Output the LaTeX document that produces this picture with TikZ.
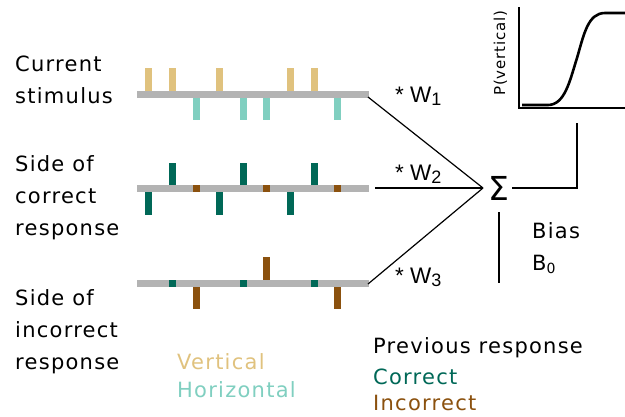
\documentclass[tikz,border=0pt]{standalone}
\usepackage{fontspec}
\setmainfont[LetterSpace=6]{DejaVu Sans}
\newfontfamily\wfont{Liberation Sans}
\usepackage{xcolor}
\usepackage{tikz}
\usetikzlibrary{positioning}

\definecolor{vertcol}{RGB}{224,194,126}
\definecolor{horcol}{RGB}{128,207,192}
\definecolor{corcol}{RGB}{0,104,87}
\definecolor{inccol}{RGB}{139,81,14}
\definecolor{bargray}{RGB}{179,179,179}

\tikzset{
	rowlabel/.style={anchor=base west, inner sep=0pt, align=left, font=\fontsize{21}{32}\selectfont},
	legendtxt/.style={anchor=base west, inner sep=0pt, font=\fontsize{21}{24}\selectfont},
	weight/.style={anchor=base west, inner sep=0pt, font=\wfont\fontsize{22.5}{24}\selectfont},
	wire/.style={line width=1.2pt, black},
}

\begin{document}
\begin{tikzpicture}[x=1pt, y=-1pt]
		\useasboundingbox (0,0) rectangle (625,416);
		% Row labels (base = last line):
		\node[rowlabel] (lab1) at (15,103){Current\\stimulus};
		\node[rowlabel] (lab2) at (15,235){Side of\\correct\\response};
		\node[rowlabel] (lab3) at (15,369){Side of\\incorrect\\response};
		% Time lines:
		\fill[bargray] (137,91) rectangle (369,98);
		\fill[bargray] (137,185) rectangle (369,192);
		\fill[bargray] (137,280) rectangle (369,287);
		% stimulus row
		\foreach \x in {145,169,216,287,311} \fill[vertcol] (\x,68) rectangle ++(7,23);
		\foreach \x in {193,240,263,334} \fill[horcol] (\x,98) rectangle ++(7,22);
		% correct side row
		\foreach \x in {169,240,311} \fill[corcol] (\x,163) rectangle ++(7,22);
		\foreach \x in {145,216,287} \fill[corcol] (\x,192) rectangle ++(7,23);
		\foreach \x in {193,263,334} \fill[inccol] (\x,185) rectangle ++(7,7);
		% incorrect side row
		\foreach \x in {169,240,311} \fill[corcol] (\x,280) rectangle ++(7,7);
		\fill[inccol] (263,257) rectangle ++(7,23);
		\foreach \x in {193,334} \fill[inccol] (\x,287) rectangle ++(7,22);
		% Weights and sum:
		\coordinate (end1) at (368,97);
		\coordinate (end2) at (375,188);
		\coordinate (end3) at (368,284);
		\coordinate (apex) at (483,188);
		\node[anchor=base west, inner sep=0pt, font=\fontsize{33}{33}\selectfont] (sig) at (488,200){Σ};
		\draw[wire] (end1) -- (apex);
		\draw[wire] (end2) -- (apex);
		\draw[wire] (end3) -- (apex);
		\node[weight] (w1) at (395,102){* W\raisebox{-3pt}{\fontsize{18}{18}\selectfont 1}};
		\node[weight] (w2) at (395,180){* W\raisebox{-3pt}{\fontsize{18}{18}\selectfont 2}};
		\node[weight] (w3) at (395,283){* W\raisebox{-3pt}{\fontsize{18}{18}\selectfont 3}};
		% Bias:
		\coordinate (btop) at (499,212);
		\coordinate (bbot) at (499,283);
		\draw[wire] (btop) -- (bbot);
		\node[legendtxt] (bias) at (532,238){Bias};
		\node[legendtxt] (b0) at (532,270){B\raisebox{-3pt}{\fontsize{14}{14}\selectfont 0}};
		% Output to the psychometric curve:
		\coordinate (pin) at (577,123);
		\draw[wire] ([xshift=3pt]sig.east) -| (pin);
		\draw[line width=1.2pt] (519,7) -- (519,108) -- (625,108);
		\draw[line width=2.6pt] (522,105) -- (548,105) .. controls (565,105) and (570,80) .. (577,58)
			.. controls (584,34) and (588,13) .. (605,13) -- (625,13);
		\node[rotate=90, anchor=base, inner sep=0pt, font=\fontsize{15}{15}\selectfont] (py) at (505,53){P(vertical)};
		% Legends:
		\node[legendtxt, text=vertcol] (lv) at (177,369){Vertical};
		\node[legendtxt, text=horcol] (lh) at (177,397){Horizontal};
		\node[legendtxt] (lp) at (373,353){Previous response};
		\node[legendtxt, text=corcol] (lc) at (373,384){Correct};
		\node[legendtxt, text=inccol] (li) at (373,410){Incorrect};
	\end{tikzpicture}
\end{document}
